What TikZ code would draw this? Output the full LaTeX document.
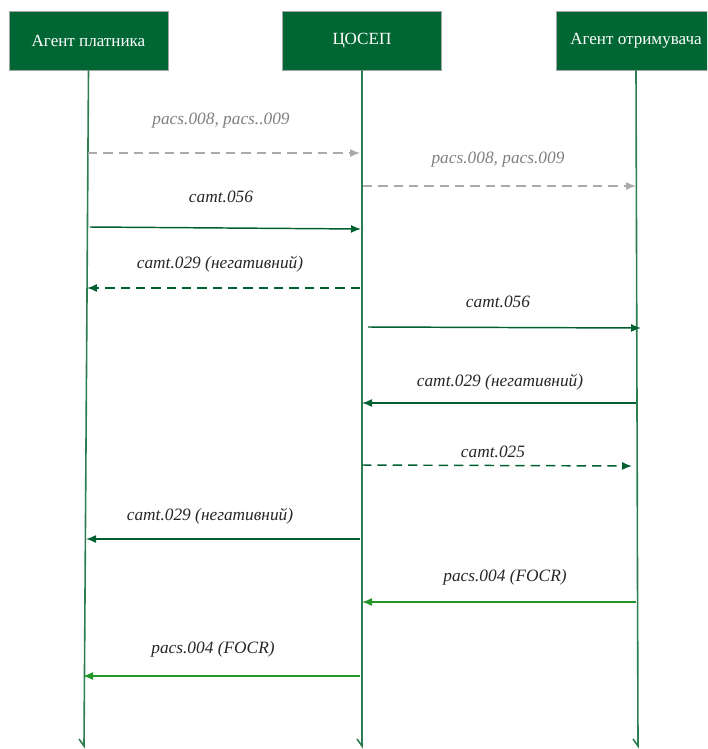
\documentclass[tikz,border=0pt]{standalone}
\usepackage{fontspec}
\setmainfont{Liberation Serif}
\usetikzlibrary{arrows.meta}

\definecolor{boxgreen}{RGB}{0,102,51}
\definecolor{lifegreen}{RGB}{45,125,80}
\definecolor{msggreen}{RGB}{0,96,48}
\definecolor{focrgreen}{RGB}{34,150,40}
\definecolor{msggray}{RGB}{170,170,170}
\definecolor{labelgray}{RGB}{128,128,128}

\tikzset{
  actor/.style={draw=gray!70, fill=boxgreen, text=white, inner sep=0pt,
    minimum width=119.25pt, minimum height=44.25pt,
    font=\fontsize{12.8}{14}\selectfont},
  lifeline/.style={draw=lifegreen, line width=1.2pt},
  msg/.style={line width=1.1pt, -{Latex[length=7.5pt,width=6pt]}},
  msgdash/.style={msg, dash pattern=on 7pt off 4.5pt},
  msglabel/.style={font=\fontsize{13}{15}\selectfont\itshape, inner sep=1pt, text=black!85},
}

\begin{document}
\begin{tikzpicture}[x=0.75pt, y=-0.75pt]
    \useasboundingbox (0,0) rectangle (707,749);
    \clip (0,0) rectangle (707,749);

    % participants
    \node[actor] (payer) at (88.5, 40.5) {Агент платника};
    \node[actor] (csep) at (362, 40.5) {ЦОСЕП};
    \node[actor, minimum width=120pt] (payee) at (636, 40.5) {Агент отримувача};

    % lifelines
    \coordinate (payerEnd) at (84, 746);
    \coordinate (csepEnd) at (362, 746);
    \coordinate (payeeEnd) at (638, 746);
    \draw[lifeline] (payer.south) -- (payerEnd) -- ++(-5, -7);
    \draw[lifeline] (csep.south) -- (csepEnd) -- ++(-5, -7);
    \draw[lifeline] (payee.south) -- (payeeEnd) -- ++(-5, -7);

    % message ends on the lifelines
    \coordinate (a1) at (88, 153);   \coordinate (b1) at (360, 153);
    \coordinate (a2) at (363, 186);  \coordinate (b2) at (636, 186);
    \coordinate (a3) at (90, 227);   \coordinate (b3) at (361, 229);
    \coordinate (a4) at (360, 288);  \coordinate (b4) at (87, 288);
    \coordinate (a5) at (368, 327);  \coordinate (b5) at (641, 328);
    \coordinate (a6) at (636, 403);  \coordinate (b6) at (362, 403);
    \coordinate (a7) at (362, 465);  \coordinate (b7) at (632, 466);
    \coordinate (a8) at (360, 539);  \coordinate (b8) at (86, 539);
    \coordinate (a9) at (636, 602);  \coordinate (b9) at (362, 602);
    \coordinate (a10) at (360, 676); \coordinate (b10) at (83, 676);

    % messages
    \draw[msgdash, msggray] (a1) -- (b1);
    \draw[msgdash, msggray] (a2) -- (b2);
    \draw[msg, msggreen] (a3) -- (b3);
    \draw[msgdash, msggreen] (a4) -- (b4);
    \draw[msg, msggreen] (a5) -- (b5);
    \draw[msg, msggreen] (a6) -- (b6);
    \draw[msgdash, msggreen] (a7) -- (b7);
    \draw[msg, msggreen] (a8) -- (b8);
    \draw[msg, focrgreen] (a9) -- (b9);
    \draw[msg, focrgreen] (a10) -- (b10);

    % labels
    \node[msglabel, text=labelgray] (l1) at (221, 121) {pacs.008, pacs..009};
    \node[msglabel, text=labelgray] (l2) at (498, 160) {pacs.008, pacs.009};
    \node[msglabel] (l3) at (221, 197) {camt.056};
    \node[msglabel] (l4) at (220, 264) {camt.029 (негативний)};
    \node[msglabel] (l5) at (498, 302) {camt.056};
    \node[msglabel] (l6) at (500, 382) {camt.029 (негативний)};
    \node[msglabel] (l7) at (493, 452) {camt.025};
    \node[msglabel] (l8) at (210, 516) {camt.029 (негативний)};
    \node[msglabel] (l9) at (505, 577) {pacs.004 (FOCR)};
    \node[msglabel] (l10) at (213, 649) {pacs.004 (FOCR)};
\end{tikzpicture}
\end{document}
